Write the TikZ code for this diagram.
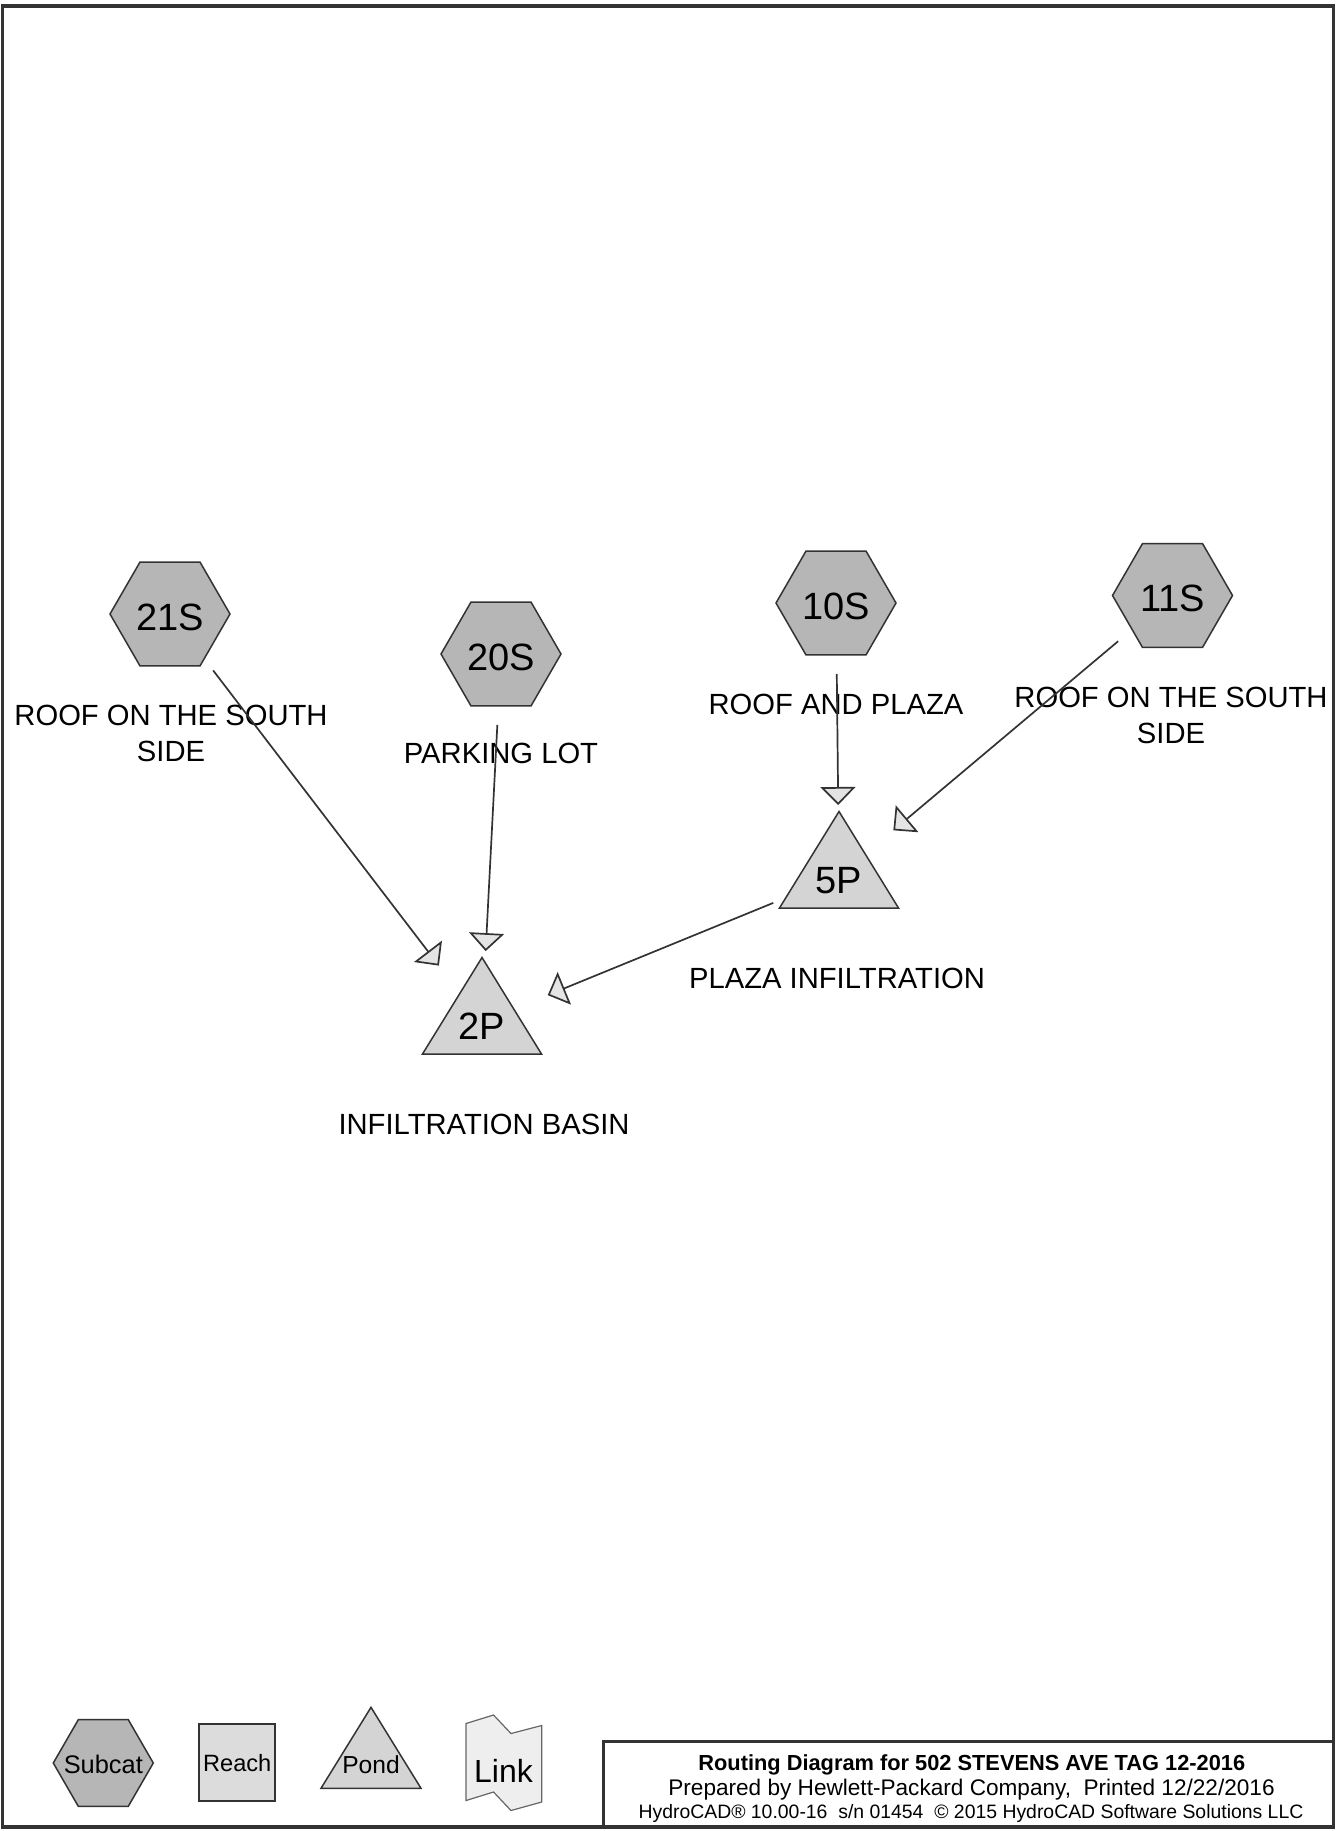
\documentclass[tikz,border=0pt]{standalone}
\usepackage{fontspec}
\setmainfont{Liberation Sans}
\usetikzlibrary{shapes.geometric,arrows.meta}
\pgfdeclarelayer{background}
\pgfsetlayers{background,main}
\definecolor{inkline}{HTML}{333333}
\definecolor{subcatfill}{HTML}{B6B6B6}
\definecolor{pondfill}{HTML}{D4D4D4}
\definecolor{tipfill}{HTML}{E4E4E4}
\definecolor{reachfill}{HTML}{DCDCDC}
\definecolor{linkfill}{HTML}{EEEEEE}
\definecolor{linkline}{HTML}{666666}
\frenchspacing
\begin{document}
\begin{tikzpicture}[x=0.5pt,y=-0.5pt,
  hexshape/.style={regular polygon, regular polygon sides=6,
    inner sep=0pt, draw=inkline, line width=0.75pt, fill=subcatfill},
  subcat/.style={hexshape, minimum size=60pt,
    font=\fontsize{19}{19}\selectfont, text height=16.3pt, text depth=0pt},
  pondid/.style={inner sep=0pt, font=\fontsize{19}{19}\selectfont,
    text height=17.6pt, text depth=0pt},
  pondshape/.style={draw=inkline, line width=0.75pt, fill=pondfill, line join=miter},
  caption/.style={inner sep=0pt, align=center, font=\fontsize{14.6}{18}\selectfont},
  flow/.style={draw=inkline, line width=0.85pt, shorten <=35.5pt, shorten >=35.5pt,
    -{Triangle[length=9pt,width=17.5pt,fill=tipfill]}},
  legendtext/.style={inner sep=0pt},
  titleline/.style={inner sep=0pt, anchor=base},
]
\useasboundingbox (0,0) rectangle (1337,1831);

% page frame
\draw[inkline, line width=1.8pt] (2.5,6) rectangle (1333.5,1827);

% subcatchments
\node[subcat] (s21) at (170,614) {21S};
\node[subcat] (s20) at (501,654) {20S};
\node[subcat] (s10) at (836,603) {10S};
\node[subcat] (s11) at (1172.5,595.5) {11S};

% ponds
\node[pondid] (p5) at (839,876) {5P};
\node[pondid] (p2) at (482,1022) {2P};
\begin{pgfonlayer}{background}
  \draw[pondshape] ([shift={(0,-64.5)}]p5.center) -- ([shift={(59.5,32)}]p5.center)
    -- ([shift={(-59.5,32)}]p5.center) -- cycle;
  \draw[pondshape] ([shift={(0,-64.5)}]p2.center) -- ([shift={(59.5,32)}]p2.center)
    -- ([shift={(-59.5,32)}]p2.center) -- cycle;
\end{pgfonlayer}

% captions
\node[caption] (c21) at (171,733) {ROOF ON THE SOUTH\\SIDE};
\node[caption] (c20) at (501,753) {PARKING LOT};
\node[caption] (c10) at (836,704) {ROOF AND PLAZA};
\node[caption] (c11) at (1171,715) {ROOF ON THE SOUTH\\SIDE};
\node[caption] (c5) at (837,978.5) {PLAZA INFILTRATION};
\node[caption] (c2) at (484,1124) {INFILTRATION BASIN};

% routing
\draw[flow] (s21.center) -- (p2.center);
\draw[flow] (s20.center) -- (p2.center);
\draw[flow] (s10.center) -- (p5.center);
\draw[flow] (s11.center) -- (p5.center);
\draw[flow] (p5.center) -- (p2.center);

% legend
\node[hexshape, minimum size=50pt] (lgsub) at (103.3,1763) {};
\node[legendtext, font=\fontsize{12.7}{12.7}\selectfont] (lgsubtxt) at (103.3,1764) {Subcat};
\node[draw=inkline, line width=0.75pt, fill=reachfill, minimum width=38pt,
  minimum height=38.5pt, inner sep=0pt, font=\fontsize{11.8}{11.8}\selectfont]
  (lgreach) at (237.2,1762.7) {Reach};
\node[legendtext, font=\fontsize{12.3}{12.3}\selectfont] (lgpond) at (371,1765) {Pond};
\node[legendtext, font=\fontsize{16}{16}\selectfont] (lglink) at (503.5,1771) {Link};
\begin{pgfonlayer}{background}
  \draw[pondshape] ([shift={(0,-57.7)}]lgpond.center) -- ([shift={(50,23.3)}]lgpond.center)
    -- ([shift={(-50,23.3)}]lgpond.center) -- cycle;
  \draw[draw=linkline, line width=0.6pt, fill=linkfill]
    ([shift={(-37.5,-47.5)}]lglink.center) -- ([shift={(-10,-56)}]lglink.center)
    -- ([shift={(7.5,-37.5)}]lglink.center) -- ([shift={(38.2,-45.5)}]lglink.center)
    -- ([shift={(38.2,31)}]lglink.center) -- ([shift={(7.5,39.5)}]lglink.center)
    -- ([shift={(-10,21)}]lglink.center) -- ([shift={(-37.5,29.5)}]lglink.center) -- cycle;
\end{pgfonlayer}

% title block
\draw[inkline, line width=1.5pt] (603,1741) rectangle (1333.5,1827);
\node[titleline, font=\fontsize{10.9}{10.9}\selectfont\bfseries] (t1) at (971.8,1770)
  {Routing Diagram for 502 STEVENS AVE TAG 12-2016};
\node[titleline, font=\fontsize{11.3}{11.3}\selectfont] (t2) at (971.5,1795)
  {Prepared by Hewlett-Packard Company,\ \ Printed 12/22/2016};
\node[titleline, font=\fontsize{9.7}{9.7}\selectfont] (t3) at (971,1818.3)
  {HydroCAD® 10.00-16\ \ s/n 01454\ \ © 2015 HydroCAD Software Solutions LLC};
\end{tikzpicture}
\end{document}
